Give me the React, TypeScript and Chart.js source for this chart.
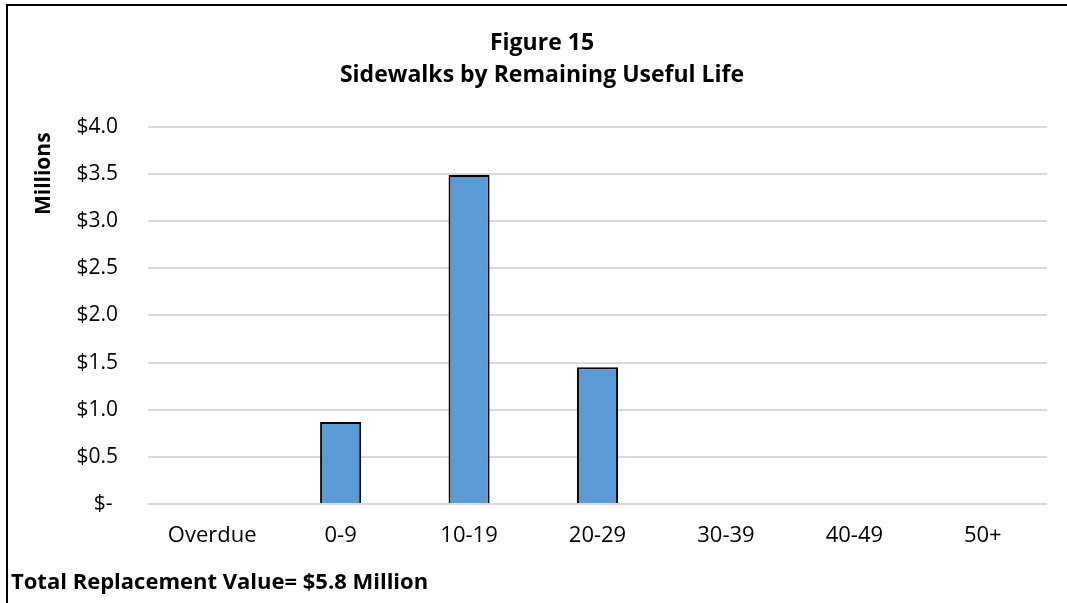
import React, { useEffect, useRef } from "react";
import { Chart, registerables } from "chart.js";

Chart.register(...registerables);

const categories = ["Overdue", "0-9", "10-19", "20-29", "30-39", "40-49", "50+"];
const values = [0, 0.87, 3.49, 1.45, 0, 0, 0];
const titleLines = ["Figure 15", "Sidewalks by Remaining Useful Life"];
const yAxisTitle = "Millions ";
const footnote = "Total Replacement Value= $5.8 Million";

const FONT = "'Open Sans', Lato, sans-serif";

export default function App() {
  const ref = useRef<HTMLCanvasElement | null>(null);
  useEffect(() => {
    if (!ref.current) return;
    const chart = new Chart(ref.current, {
      type: "bar",
      data: {
        labels: categories,
        datasets: [
          {
            data: values,
            backgroundColor: "#5b9bd5",
            borderColor: "#000000",
            borderWidth: 2,
            barPercentage: 0.32,
            categoryPercentage: 1,
          },
        ],
      },
      options: {
        animation: false,
        responsive: false,
        maintainAspectRatio: false,
        layout: { padding: { left: 37, right: 20, top: 15, bottom: 49 } },
        plugins: {
          legend: { display: false },
          tooltip: { enabled: false },
          title: {
            display: true,
            text: titleLines,
            color: "#000",
            font: { family: FONT, size: 23, weight: "bold", lineHeight: 1.39 },
            padding: { top: 12, bottom: 36 },
          },
        },
        scales: {
          x: {
            grid: { display: false, drawTicks: false },
            border: { display: false },
            ticks: {
              color: "#000",
              padding: 19,
              font: { family: FONT, size: 22 },
            },
            afterFit: (s: any) => {
              s.height = 50;
            },
          },
          y: {
            min: 0,
            max: 4,
            grid: { color: "#d9d9d9", lineWidth: 2, drawTicks: false },
            border: { display: false },
            ticks: {
              stepSize: 0.5,
              color: "#000",
              padding: 30,
              font: { family: FONT, size: 21 },
              callback: (v: any) => (Number(v) === 0 ? "$- " : "$" + Number(v).toFixed(1)),
            },
            title: {
              display: true,
              text: yAxisTitle,
              align: "end",
              color: "#000",
              font: { family: FONT, size: 21, weight: "bold" },
              padding: { top: -6, bottom: 4 },
            },
            afterFit: (s: any) => {
              s.width = 111;
            },
          },
        },
      },
    });
    return () => chart.destroy();
  }, []);

  return (
    <div style={{ position: "absolute", left: 0, top: 0, width: 1067, height: 603, background: "#fff", overflow: "hidden" }}>
      <div
        style={{
          position: "absolute",
          left: 6,
          top: 4,
          width: 1070,
          height: 610,
          borderTop: "2px solid #000",
          borderLeft: "2px solid #000",
        }}
      />
      <canvas ref={ref} width={1067} height={603} style={{ position: "absolute", left: 0, top: 0 }} />
      <div
        style={{
          position: "absolute",
          left: 11,
          top: 565,
          fontFamily: FONT,
          fontWeight: "bold",
          fontSize: 22,
          lineHeight: "30px",
          color: "#000",
          whiteSpace: "nowrap",
        }}
      >
        {footnote}
      </div>
    </div>
  );
}
